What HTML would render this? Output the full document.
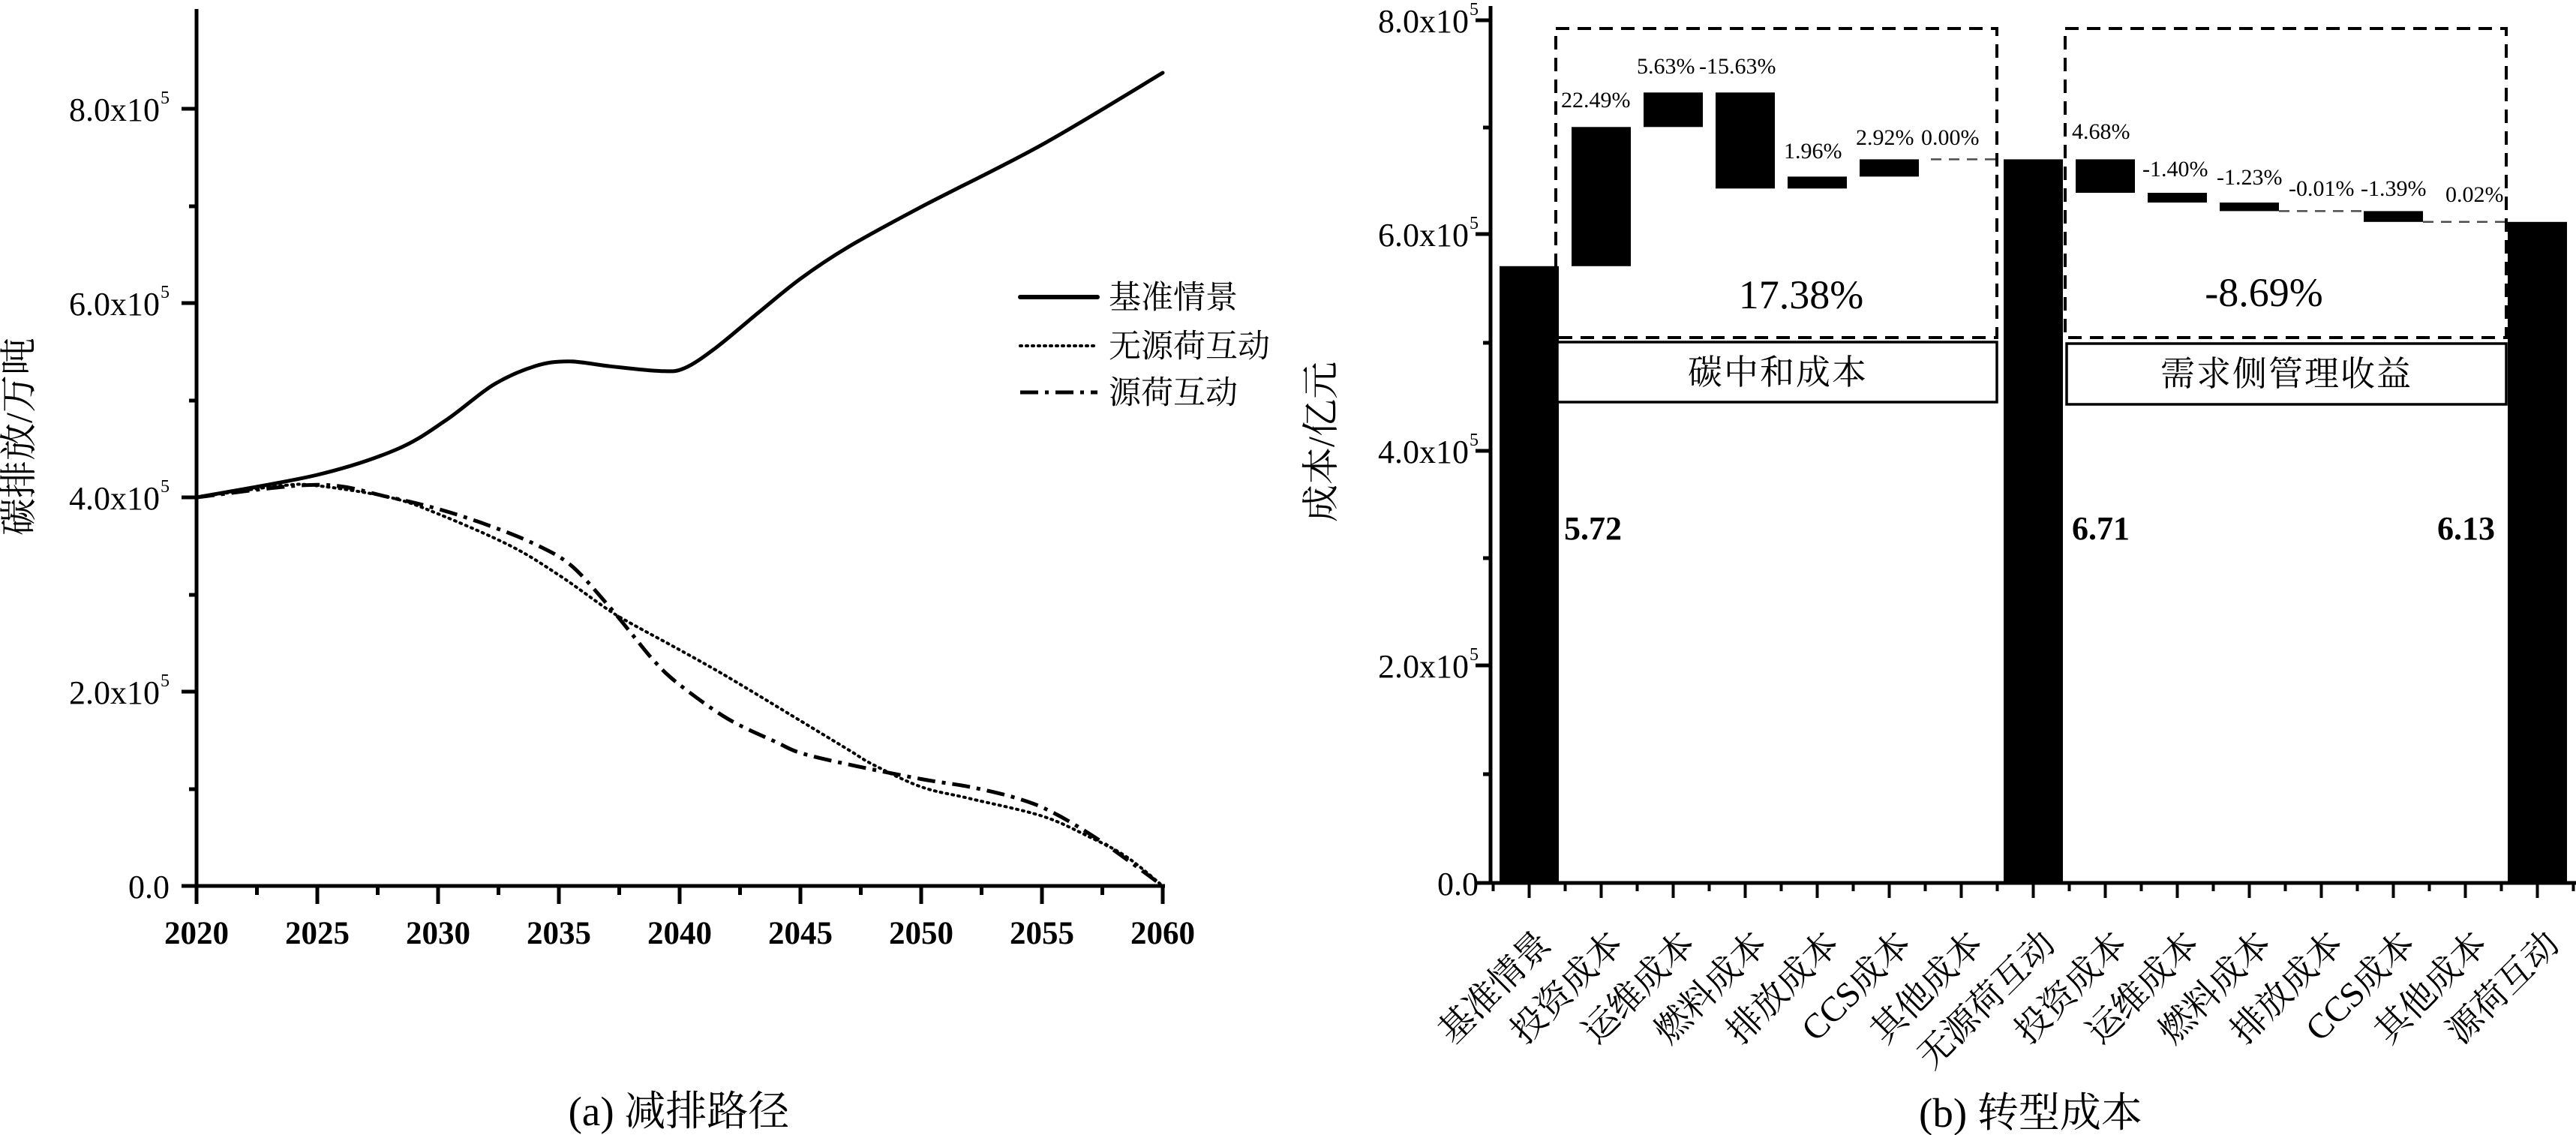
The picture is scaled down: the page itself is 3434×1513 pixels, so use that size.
<!DOCTYPE html>
<html><head><meta charset="utf-8"><style>
html,body{margin:0;padding:0;background:#fff;}
svg{display:block;}
.s{font-family:"Liberation Serif","Noto Serif CJK SC",serif;}
</style></head><body>
<svg width="3434" height="1513" viewBox="0 0 3434 1513" xmlns="http://www.w3.org/2000/svg" class="s">
<rect width="3434" height="1513" fill="#fff"/>
<!-- LEFT CHART -->
<g stroke="#000" stroke-width="5" fill="none">
<line x1="262" y1="12" x2="262" y2="1183"/>
<line x1="242" y1="1181" x2="1553" y2="1181"/>
<line x1="242" y1="145" x2="262" y2="145"/>
<line x1="242" y1="404" x2="262" y2="404"/>
<line x1="242" y1="663" x2="262" y2="663"/>
<line x1="242" y1="922" x2="262" y2="922"/>
<line x1="252" y1="275" x2="262" y2="275"/>
<line x1="252" y1="534" x2="262" y2="534"/>
<line x1="252" y1="793" x2="262" y2="793"/>
<line x1="252" y1="1052" x2="262" y2="1052"/>
<line x1="262" y1="1181" x2="262" y2="1205"/>
<line x1="423" y1="1181" x2="423" y2="1205"/>
<line x1="584" y1="1181" x2="584" y2="1205"/>
<line x1="745" y1="1181" x2="745" y2="1205"/>
<line x1="906" y1="1181" x2="906" y2="1205"/>
<line x1="1067" y1="1181" x2="1067" y2="1205"/>
<line x1="1228" y1="1181" x2="1228" y2="1205"/>
<line x1="1389" y1="1181" x2="1389" y2="1205"/>
<line x1="1550" y1="1181" x2="1550" y2="1205"/>
<line x1="342.5" y1="1181" x2="342.5" y2="1193"/>
<line x1="503.5" y1="1181" x2="503.5" y2="1193"/>
<line x1="664.5" y1="1181" x2="664.5" y2="1193"/>
<line x1="825.5" y1="1181" x2="825.5" y2="1193"/>
<line x1="986.5" y1="1181" x2="986.5" y2="1193"/>
<line x1="1147.5" y1="1181" x2="1147.5" y2="1193"/>
<line x1="1308.5" y1="1181" x2="1308.5" y2="1193"/>
<line x1="1469.5" y1="1181" x2="1469.5" y2="1193"/>
</g>
<g font-size="44" text-anchor="end">
<text x="213" y="161">8.0x10</text><text x="213" y="420">6.0x10</text><text x="213" y="679">4.0x10</text><text x="213" y="938">2.0x10</text><text x="226" y="1197">0.0</text>
</g>
<g font-size="24">
<text x="214" y="138">5</text><text x="214" y="397">5</text><text x="214" y="656">5</text><text x="214" y="915">5</text>
</g>
<g font-size="43" font-weight="bold" text-anchor="middle">
<text x="262" y="1258">2020</text><text x="423" y="1258">2025</text><text x="584" y="1258">2030</text><text x="745" y="1258">2035</text><text x="906" y="1258">2040</text><text x="1067" y="1258">2045</text><text x="1228" y="1258">2050</text><text x="1389" y="1258">2055</text><text x="1550" y="1258">2060</text>
</g>
<text transform="translate(42,582) rotate(-90)" font-size="50" text-anchor="middle">碳排放/万吨</text>
<g fill="none" stroke="#000" stroke-linejoin="round" stroke-linecap="round">
<polyline class="sm" stroke-width="5" points="262,663 423,633 527.7,599.5 593.7,560.7 658,512.8 712.8,488.2 757.9,481.7 812.6,488.2 880.2,494.6 912.4,490.8 954.3,463.6 1012.3,415.7 1067,371.6 1131.4,328.9 1228,275.8 1389,192.9 1550,97"/>
<polyline class="sm" stroke-width="4" stroke-dasharray="2 6" points="262,663 374.7,647.5 423,647.5 519.6,663 584,685 680.6,727.7 745,766.6 809.4,811.9 841.6,831.3 906,866.3 970.4,902.6 1067,960.8 1131.4,999.7 1163.6,1019.1 1228,1048.9 1292.4,1064.4 1389,1087.8 1453.4,1116.2 1501.7,1142.1 1550,1181"/>
<polyline class="sm" stroke-width="5" stroke-dasharray="24 9 5 9" stroke-linecap="butt" points="262,663 423,646.2 519.6,663 584,678.5 648.4,699.3 712.8,725.2 761.1,753.6 809.4,805.4 841.6,844.3 873.8,883.1 906,912.9 970.4,958.3 1034.8,989.3 1067,1003.6 1131.4,1019.1 1228,1038.5 1292.4,1048.9 1356.8,1064.4 1405.1,1083.9 1469.5,1122.7 1550,1181"/>
<line x1="1360" y1="396" x2="1463" y2="396" stroke-width="6"/>
<line x1="1360" y1="461" x2="1463" y2="461" stroke-width="4" stroke-dasharray="2 6"/>
<line x1="1360" y1="523" x2="1463" y2="523" stroke-width="5" stroke-dasharray="24 9 5 9" stroke-linecap="butt"/>
</g>
<g font-size="43">
<text x="1478" y="411">基准情景</text><text x="1478" y="476">无源荷互动</text><text x="1478" y="538">源荷互动</text>
</g>
<text x="905" y="1500" font-size="55" text-anchor="middle">(a) 减排路径</text>

<!-- RIGHT CHART -->
<g fill="#000">
<rect x="1999" y="354.8" width="79" height="822.2"/>
<rect x="2095" y="169.3" width="79" height="185.5"/>
<rect x="2191" y="123.3" width="79" height="46"/>
<rect x="2287" y="123.3" width="79" height="128"/>
<rect x="2383" y="235.4" width="79" height="15.9"/>
<rect x="2479" y="212.4" width="79" height="23"/>
<rect x="2671" y="212.4" width="79" height="964.6"/>
<rect x="2767" y="212.4" width="79" height="44.6"/>
<rect x="2863" y="257" width="79" height="13"/>
<rect x="2959" y="270" width="79" height="11.4"/>
<rect x="3151" y="281.4" width="79" height="14.4"/>
<rect x="3343" y="295.8" width="79" height="881.2"/>
</g>
<g stroke="#000" stroke-width="2.5" stroke-dasharray="14 10" fill="none" opacity="0.7">
<line x1="2574" y1="212.4" x2="2662" y2="212.4"/>
<line x1="3038" y1="281.4" x2="3151" y2="281.4"/>
<line x1="3230" y1="295.8" x2="3341" y2="295.8"/>
</g>
<g stroke="#000" stroke-width="4" stroke-dasharray="18 11" fill="none">
<rect x="2074" y="38" width="588" height="412"/>
<rect x="2753" y="38" width="588" height="412"/>
</g>
<g stroke="#000" stroke-width="3.5" fill="#fff">
<rect x="2076" y="456" width="586" height="80"/>
<rect x="2755" y="458" width="586" height="81"/>
</g>
<g font-size="46" text-anchor="middle" letter-spacing="2">
<text x="2370" y="512">碳中和成本</text><text x="3048" y="514">需求侧管理收益</text>
</g>
<g font-size="54" text-anchor="middle">
<text x="2401" y="411">17.38%</text><text x="3018" y="408">-8.69%</text>
</g>
<g font-size="44" font-weight="bold">
<text x="2085" y="719">5.72</text><text x="2762" y="719">6.71</text><text x="3249" y="719">6.13</text>
</g>
<g font-size="30">
<text x="2081" y="143">22.49%</text>
<text x="2182" y="98">5.63%</text><text x="2265" y="98">-15.63%</text>
<text x="2378" y="211">1.96%</text>
<text x="2474" y="193">2.92%</text><text x="2561" y="193">0.00%</text>
<text x="2762" y="185">4.68%</text>
<text x="2856" y="235">-1.40%</text>
<text x="2955" y="246">-1.23%</text>
<text x="3051" y="261">-0.01%</text>
<text x="3147" y="261">-1.39%</text>
<text x="3260" y="269">0.02%</text>
</g>
<g stroke="#000" stroke-width="5" fill="none">
<line x1="1987" y1="8" x2="1987" y2="1179"/>
<line x1="1967" y1="1177" x2="3434" y2="1177"/>
<line x1="1967" y1="27" x2="1987" y2="27"/>
<line x1="1967" y1="312" x2="1987" y2="312"/>
<line x1="1967" y1="601" x2="1987" y2="601"/>
<line x1="1967" y1="887" x2="1987" y2="887"/>
<line x1="1977" y1="170" x2="1987" y2="170"/>
<line x1="1977" y1="457" x2="1987" y2="457"/>
<line x1="1977" y1="744" x2="1987" y2="744"/>
<line x1="1977" y1="1032" x2="1987" y2="1032"/>
</g>
<g stroke="#000" stroke-width="4">
<line x1="2038.5" y1="1177" x2="2038.5" y2="1197"/><line x1="2134.5" y1="1177" x2="2134.5" y2="1197"/><line x1="2230.5" y1="1177" x2="2230.5" y2="1197"/><line x1="2326.5" y1="1177" x2="2326.5" y2="1197"/><line x1="2422.5" y1="1177" x2="2422.5" y2="1197"/><line x1="2518.5" y1="1177" x2="2518.5" y2="1197"/><line x1="2614.5" y1="1177" x2="2614.5" y2="1197"/><line x1="2710.5" y1="1177" x2="2710.5" y2="1197"/><line x1="2806.5" y1="1177" x2="2806.5" y2="1197"/><line x1="2902.5" y1="1177" x2="2902.5" y2="1197"/><line x1="2998.5" y1="1177" x2="2998.5" y2="1197"/><line x1="3094.5" y1="1177" x2="3094.5" y2="1197"/><line x1="3190.5" y1="1177" x2="3190.5" y2="1197"/><line x1="3286.5" y1="1177" x2="3286.5" y2="1197"/><line x1="3382.5" y1="1177" x2="3382.5" y2="1197"/>
<line x1="1990.5" y1="1177" x2="1990.5" y2="1188"/><line x1="2086.5" y1="1177" x2="2086.5" y2="1188"/><line x1="2182.5" y1="1177" x2="2182.5" y2="1188"/><line x1="2278.5" y1="1177" x2="2278.5" y2="1188"/><line x1="2374.5" y1="1177" x2="2374.5" y2="1188"/><line x1="2470.5" y1="1177" x2="2470.5" y2="1188"/><line x1="2566.5" y1="1177" x2="2566.5" y2="1188"/><line x1="2662.5" y1="1177" x2="2662.5" y2="1188"/><line x1="2758.5" y1="1177" x2="2758.5" y2="1188"/><line x1="2854.5" y1="1177" x2="2854.5" y2="1188"/><line x1="2950.5" y1="1177" x2="2950.5" y2="1188"/><line x1="3046.5" y1="1177" x2="3046.5" y2="1188"/><line x1="3142.5" y1="1177" x2="3142.5" y2="1188"/><line x1="3238.5" y1="1177" x2="3238.5" y2="1188"/><line x1="3334.5" y1="1177" x2="3334.5" y2="1188"/><line x1="3430.5" y1="1177" x2="3430.5" y2="1188"/>
</g>
<g font-size="44" text-anchor="end">
<text x="1958" y="43">8.0x10</text><text x="1958" y="328">6.0x10</text><text x="1958" y="617">4.0x10</text><text x="1958" y="903">2.0x10</text><text x="1971" y="1193">0.0</text>
</g>
<g font-size="24">
<text x="1959" y="20">5</text><text x="1959" y="305">5</text><text x="1959" y="594">5</text><text x="1959" y="880">5</text>
</g>
<text transform="translate(1778,589) rotate(-90)" font-size="50" text-anchor="middle">成本/亿元</text>
<g font-size="47" text-anchor="end">
<text transform="translate(2070,1261) rotate(-45)">基准情景</text>
<text transform="translate(2166,1261) rotate(-45)">投资成本</text>
<text transform="translate(2262,1261) rotate(-45)">运维成本</text>
<text transform="translate(2358,1261) rotate(-45)">燃料成本</text>
<text transform="translate(2454,1261) rotate(-45)">排放成本</text>
<text transform="translate(2550,1261) rotate(-45)">CCS成本</text>
<text transform="translate(2646,1261) rotate(-45)">其他成本</text>
<text transform="translate(2742,1261) rotate(-45)">无源荷互动</text>
<text transform="translate(2838,1261) rotate(-45)">投资成本</text>
<text transform="translate(2934,1261) rotate(-45)">运维成本</text>
<text transform="translate(3030,1261) rotate(-45)">燃料成本</text>
<text transform="translate(3126,1261) rotate(-45)">排放成本</text>
<text transform="translate(3222,1261) rotate(-45)">CCS成本</text>
<text transform="translate(3318,1261) rotate(-45)">其他成本</text>
<text transform="translate(3414,1261) rotate(-45)">源荷互动</text>
</g>
<text x="2707" y="1502" font-size="55" text-anchor="middle">(b) 转型成本</text>
</svg>
<script>
(function(){
var ns="http://www.w3.org/2000/svg";
document.querySelectorAll("polyline.sm").forEach(function(pl){
 var p=pl.getAttribute("points").trim().split(/\s+/).map(function(s){return s.split(",").map(Number);});
 var d="M"+p[0][0]+","+p[0][1];
 for(var i=0;i<p.length-1;i++){
  var p0=p[i>0?i-1:i],p1=p[i],p2=p[i+1],p3=p[i+2<p.length?i+2:i+1];
  var c1x=p1[0]+(p2[0]-p0[0])/6,c1y=p1[1]+(p2[1]-p0[1])/6;
  var c2x=p2[0]-(p3[0]-p1[0])/6,c2y=p2[1]-(p3[1]-p1[1])/6;
  d+=" C"+c1x.toFixed(1)+","+c1y.toFixed(1)+" "+c2x.toFixed(1)+","+c2y.toFixed(1)+" "+p2[0]+","+p2[1];
 }
 var path=document.createElementNS(ns,"path");
 for(var j=0;j<pl.attributes.length;j++){var a=pl.attributes[j];if(a.name!=="points"&&a.name!=="class")path.setAttribute(a.name,a.value);}
 path.setAttribute("d",d);
 pl.parentNode.replaceChild(path,pl);
});
})();
</script>
</body></html>
